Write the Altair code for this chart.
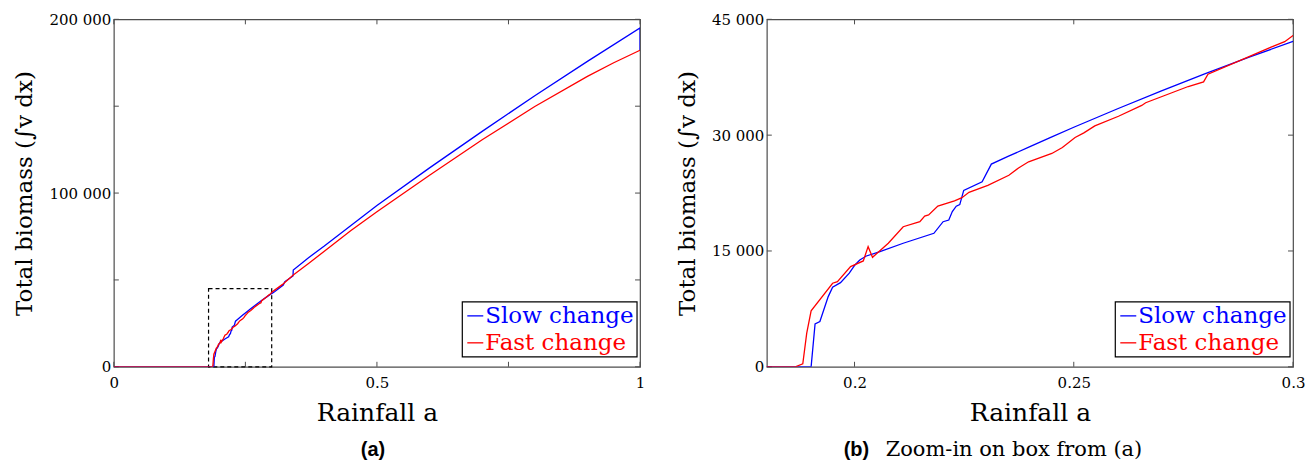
import altair as alt
import pandas as pd

# ---------------- data ----------------
series_names = ["Slow change", "Fast change"]
series_colors = ["#0000ff", "#ff0000"]

rain_slow = [0, 0.1901, 0.191, 0.1921, 0.194, 0.195, 0.1968, 0.1988, 0.2001, 0.2012,
             0.2027, 0.2058, 0.2111, 0.2181, 0.2202, 0.2215, 0.2223, 0.2232, 0.224, 0.2249,
             0.2291, 0.2312, 0.235, 0.24, 0.245, 0.25, 0.26, 0.27, 0.28, 0.29,
             0.3, 0.306, 0.322, 0.325, 0.3405, 0.341, 0.37, 0.4, 0.45, 0.5,
             0.6, 0.7, 0.8, 0.9, 1.0, 1.0]
biomass_slow = [0, 0, 5560, 5860, 9090, 10300, 10900, 12120, 13190, 13840,
                14350, 14910, 16000, 17290, 18790, 19010, 20100, 20800, 21000, 22850,
                23950, 26250, 27240, 28520, 29780, 31020, 33420, 35740, 37960, 40100,
                42140, 43300, 47100, 49000, 52300, 55700, 62800, 69500, 81200, 92800,
                114500, 135500, 156000, 175800, 195000, 182200]

rain_fast = [0, 0.1865, 0.1882, 0.1891, 0.1901, 0.195, 0.1961, 0.1991, 0.202, 0.2031,
             0.2041, 0.2077, 0.2111, 0.2149, 0.216, 0.2169, 0.219, 0.2228, 0.2245, 0.2261,
             0.2304, 0.2352, 0.2374, 0.2397, 0.245, 0.2474, 0.2503, 0.2523, 0.2548, 0.2602,
             0.2655, 0.2664, 0.2761, 0.2796, 0.2806, 0.2889, 0.295, 0.2981, 0.3, 0.32,
             0.341, 0.37, 0.4, 0.45, 0.5, 0.6, 0.7, 0.8, 0.9, 0.95, 1.0]
biomass_fast = [0, 0, 390, 4360, 7240, 10820, 11030, 12970, 13710, 15560,
                14180, 16000, 18140, 18790, 19530, 19660, 20820, 21500, 21900, 22600,
                23500, 24800, 25750, 26550, 27630, 28400, 29700, 30300, 31200, 32450,
                33850, 34200, 36300, 36900, 37900, 39900, 41400, 42100, 42900, 47300,
                52900, 59500, 66500, 78300, 89300, 110300, 130700, 149800, 167200, 175000, 182200]

assert len(rain_slow) == len(biomass_slow)
assert len(rain_fast) == len(biomass_fast)

# panel (a)
a_xdomain = [0, 1]
a_ydomain = [0, 200000]
a_xlabels = [0, 0.5, 1]
a_xticks = [0, 0.25, 0.5, 0.75, 1]
a_ylabels = [0, 100000, 200000]
a_yticks = [0, 50000, 100000, 150000, 200000]

# panel (b) = zoom box drawn in (a)
b_xdomain = [0.18, 0.3]
b_ydomain = [0, 45000]
b_xlabels = [0.2, 0.25, 0.3]
b_xticks = [0.2, 0.25, 0.3]
b_ylabels = [0, 15000, 30000, 45000]
b_yticks = [0, 15000, 30000, 45000]

x_title = "Rainfall a"
y_title = "Total biomass (∫v dx)"
caption_a = ["(a)"]
caption_b = ["(b)", "Zoom-in on box from (a)"]

SERIF = "DejaVu Serif"
SANS = "Liberation Sans"
FRAME = "#4d4d4d"
W, H = 527, 348

slow_df = pd.DataFrame({"a": rain_slow, "v": biomass_slow, "i": range(len(rain_slow))})
fast_df = pd.DataFrame({"a": rain_fast, "v": biomass_fast, "i": range(len(rain_fast))})
box_df = pd.DataFrame({"a0": [b_xdomain[0]], "a1": [b_xdomain[1]],
                       "v0": [b_ydomain[0]], "v1": [b_ydomain[1]]})
one = pd.DataFrame({"k": [0]})


def make_panel(xdom, ydom, xlab, xtk, ylab, ytk, draw_box, caption):
    xscale = alt.Scale(domain=xdom, nice=False, zero=False)
    yscale = alt.Scale(domain=ydom, nice=False, zero=False)
    xaxis = alt.Axis(values=xlab, format="~g", title=x_title, labelFlush=False,
                     labelOverlap=False, labelPadding=9, titlePadding=10, titleFontSize=25)
    yaxis = alt.Axis(values=ylab, title=y_title, labelPadding=3, titlePadding=12, titleFontSize=23,
                     labelExpr="datum.value == 0 ? '0' : format(datum.value / 1000, 'd') + ' 000'")

    def X(f):
        return alt.X(f, type="quantitative", scale=xscale, axis=xaxis)

    def Y(f):
        return alt.Y(f, type="quantitative", scale=yscale, axis=yaxis)

    xt = pd.DataFrame({"a": xtk})
    yt = pd.DataFrame({"v": ytk})
    layers = [
        alt.Chart(xt).mark_rule(color=FRAME).encode(x=X("a"), y=alt.value(H), y2=alt.value(H - 5)),
        alt.Chart(xt).mark_rule(color=FRAME).encode(x=X("a"), y=alt.value(0), y2=alt.value(5)),
        alt.Chart(yt).mark_rule(color=FRAME).encode(y=Y("v"), x=alt.value(0), x2=alt.value(5)),
        alt.Chart(yt).mark_rule(color=FRAME).encode(y=Y("v"), x=alt.value(W - 5), x2=alt.value(W)),
    ]
    if draw_box:
        layers.append(
            alt.Chart(box_df).mark_rect(fill=None, stroke="black", strokeWidth=1.2,
                                        strokeDash=[4, 3]).encode(
                x=X("a0"), x2="a1", y=Y("v0"), y2="v1"))
    layers.append(alt.Chart(slow_df).mark_line(color=series_colors[0], strokeWidth=1.3, clip=True)
                  .encode(x=X("a"), y=Y("v"), order=alt.Order("i:Q")))
    layers.append(alt.Chart(fast_df).mark_line(color=series_colors[1], strokeWidth=1.3, clip=True)
                  .encode(x=X("a"), y=Y("v"), order=alt.Order("i:Q")))

    # legend box (bottom-right, inside the plot)
    bx1 = W - 3
    bx0 = bx1 - 175
    layers.append(alt.Chart(one).mark_rect(fill="white", stroke="black", strokeWidth=1.2).encode(
        x=alt.value(bx0), x2=alt.value(bx1), y=alt.value(283), y2=alt.value(338)))
    for k, (name, col) in enumerate(zip(series_names, series_colors)):
        base = 304 + 27 * k
        layers.append(alt.Chart(one).mark_rule(color=col, strokeWidth=1.3).encode(
            x=alt.value(bx0 + 5), x2=alt.value(bx0 + 21), y=alt.value(base - 7)))
        layers.append(alt.Chart(pd.DataFrame({"t": [name]})).mark_text(
            align="left", baseline="alphabetic", font=SERIF, fontSize=23, color=col).encode(
            x=alt.value(bx0 + 23), y=alt.value(base), text="t:N"))

    # caption below the panel
    cap_y = 437
    if len(caption) == 1:
        layers.append(alt.Chart(pd.DataFrame({"t": caption})).mark_text(
            align="center", baseline="alphabetic", font=SANS, fontWeight="bold", fontSize=20,
            color="black").encode(x=alt.value(W / 2 - 4), y=alt.value(cap_y), text="t:N"))
    else:
        layers.append(alt.Chart(pd.DataFrame({"t": caption[:1]})).mark_text(
            align="left", baseline="alphabetic", font=SANS, fontWeight="bold", fontSize=20,
            color="black").encode(x=alt.value(77), y=alt.value(cap_y), text="t:N"))
        layers.append(alt.Chart(pd.DataFrame({"t": caption[1:]})).mark_text(
            align="left", baseline="alphabetic", font=SERIF, fontSize=21,
            color="black").encode(x=alt.value(119), y=alt.value(cap_y), text="t:N"))

    return alt.layer(*layers).properties(width=W, height=H)


panel_a = make_panel(a_xdomain, a_ydomain, a_xlabels, a_xticks, a_ylabels, a_yticks, True, caption_a)
panel_b = make_panel(b_xdomain, b_ydomain, b_xlabels, b_xticks, b_ylabels, b_yticks, False, caption_b)

chart = alt.hconcat(panel_a, panel_b, spacing=29).properties(
    padding={"left": 5, "top": 3, "right": 0, "bottom": 0}
).configure_view(
    stroke=FRAME, strokeWidth=1.2
).configure_axis(
    labelFont=SERIF, labelFontSize=15, labelColor="black",
    titleFont=SERIF, titleFontWeight="normal", titleColor="black",
    domain=False, ticks=False, grid=False
)

chart.save("out.html", embed_options={"renderer": "svg", "actions": False})
